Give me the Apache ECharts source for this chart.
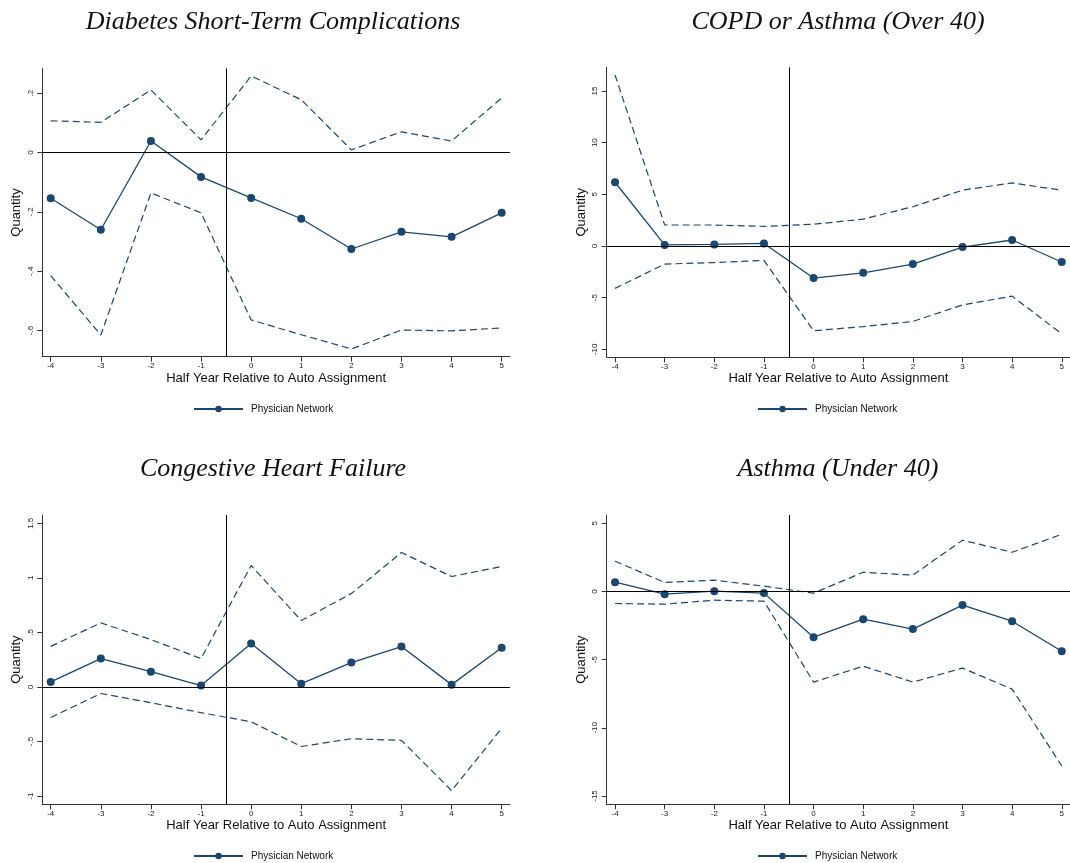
<!DOCTYPE html>
<html>
<head>
<meta charset="utf-8">
<script src="https://cdn.jsdelivr.net/npm/echarts@6/dist/echarts.min.js"></script>
<style>
  html, body { margin: 0; padding: 0; background: #fff; }
  #chart { width: 1070px; height: 863px; }
</style>
</head>
<body>
<div id="chart"></div>
<script>
// Event-study estimates by half year relative to auto assignment
const halfYears = [-4, -3, -2, -1, 0, 1, 2, 3, 4, 5];

// Diabetes short-term complications
const diabEst   = [-0.154, -0.26, 0.039, -0.082, -0.153, -0.223, -0.325, -0.267, -0.284, -0.203];
const diabUpper = [0.107, 0.102, 0.211, 0.043, 0.258, 0.178, 0.009, 0.07, 0.039, 0.184];
const diabLower = [-0.415, -0.615, -0.136, -0.203, -0.564, -0.614, -0.662, -0.598, -0.601, -0.591];

// COPD or asthma (over 40)
const copdEst   = [6.17, 0.1, 0.15, 0.25, -3.1, -2.6, -1.75, -0.1, 0.58, -1.55];
const copdUpper = [16.55, 2.03, 2.03, 1.9, 2.1, 2.6, 3.8, 5.4, 6.1, 5.4];
const copdLower = [-4.1, -1.75, -1.6, -1.4, -8.2, -7.8, -7.3, -5.7, -4.85, -8.5];

// Congestive heart failure
const chfEst   = [0.046, 0.26, 0.14, 0.012, 0.397, 0.03, 0.223, 0.37, 0.021, 0.36];
const chfUpper = [0.372, 0.587, 0.434, 0.26, 1.113, 0.608, 0.856, 1.232, 1.012, 1.104];
const chfLower = [-0.28, -0.06, -0.145, -0.236, -0.32, -0.546, -0.475, -0.49, -0.95, -0.38];

// Asthma (under 40)
const asthEst   = [0.68, -0.2, 0.02, -0.12, -3.35, -2.03, -2.76, -1.0, -2.18, -4.38];
const asthUpper = [2.22, 0.66, 0.83, 0.39, -0.12, 1.41, 1.2, 3.76, 2.88, 4.2];
const asthLower = [-0.88, -0.93, -0.64, -0.71, -6.65, -5.48, -6.65, -5.62, -7.16, -12.8];

const panelTitles = ['Diabetes Short-Term Complications', 'COPD or Asthma (Over 40)',
                     'Congestive Heart Failure', 'Asthma (Under 40)'];
const yTicks = [
  [-0.6, -0.4, -0.2, 0, 0.2],
  [-10, -5, 0, 5, 10, 15],
  [-1, -0.5, 0, 0.5, 1, 1.5],
  [-15, -10, -5, 0, 5]
];
const yRanges = [[-0.688, 0.284], [-10.77, 17.29], [-1.076, 1.576], [-15.61, 5.61]];
const xRange = [-4.168, 5.166];
const assignmentLine = -0.5;

const panels = [
  { est: diabEst, up: diabUpper, lo: diabLower },
  { est: copdEst, up: copdUpper, lo: copdLower },
  { est: chfEst,  up: chfUpper,  lo: chfLower },
  { est: asthEst, up: asthUpper, lo: asthLower }
];

const NAVY = '#1a476f';
const SANS = '"Liberation Sans", Arial, sans-serif';
const SERIF = '"Liberation Serif", "DejaVu Serif", serif';

// Stata-style number labels: ".2", "-.5"
function stataNum(v) {
  const s = String(+Number(v).toFixed(4));
  return s.replace(/^(-?)0\./, '$1.');
}

const gridBoxes = [
  { left: 42.3,  top: 68.3, width: 467.7, height: 288.4 },
  { left: 606.7, top: 67.3, width: 468,   height: 290 },
  { left: 42.3,  top: 515,  width: 467.7, height: 289.3 },
  { left: 606.7, top: 515,  width: 468,   height: 289.3 }
];
const titlePos = [[273, 9], [838, 9], [273, 456], [838, 456]];
const legendPos = [[193, 404], [757, 404], [193, 851], [757, 851]];

const grid = [], xAxis = [], yAxis = [], series = [], title = [], legend = [];

panels.forEach((p, k) => {
  grid.push(Object.assign({ containLabel: false }, gridBoxes[k]));

  title.push({
    text: panelTitles[k],
    left: titlePos[k][0], top: titlePos[k][1],
    textAlign: 'center', padding: 0,
    textStyle: { fontFamily: SERIF, fontStyle: 'italic', fontWeight: 'normal', fontSize: 26, color: '#111' }
  });

  legend.push({
    data: ['Physician Network'],
    left: legendPos[k][0], top: legendPos[k][1],
    padding: 0, itemWidth: 49, itemHeight: 8, itemGap: 0,
    selectedMode: false,
    textStyle: { fontFamily: SANS, fontSize: 10, color: '#111', padding: [0, 0, 0, 3] }
  });

  xAxis.push({
    type: 'value', gridIndex: k,
    min: xRange[0], max: xRange[1],
    name: 'Half Year Relative to Auto Assignment',
    nameLocation: 'middle', nameGap: 15,
    nameTextStyle: { fontFamily: SANS, fontSize: 13, color: '#111' },
    axisLine: { onZero: false, lineStyle: { color: '#333', width: 1 } },
    axisTick: { show: true, length: 5, customValues: halfYears, lineStyle: { color: '#333' } },
    axisLabel: { customValues: halfYears, margin: 5, fontFamily: SANS, fontSize: 8, color: '#222',
                 formatter: v => stataNum(v) },
    splitLine: { show: false }
  });

  yAxis.push({
    type: 'value', gridIndex: k,
    min: yRanges[k][0], max: yRanges[k][1],
    name: 'Quantity',
    nameLocation: 'middle', nameGap: 19,
    nameTextStyle: { fontFamily: SANS, fontSize: 13, color: '#111' },
    axisLine: { show: true, onZero: false, lineStyle: { color: '#333', width: 1 } },
    axisTick: { show: true, length: 5, customValues: yTicks[k], lineStyle: { color: '#333' } },
    axisLabel: { customValues: yTicks[k], rotate: 90, margin: 8, fontFamily: SANS, fontSize: 8, color: '#222',
                 formatter: v => stataNum(v) },
    splitLine: { show: false }
  });

  const pairs = arr => halfYears.map((x, i) => [x, arr[i]]);
  const ciStyle = { color: NAVY, width: 1.2, type: [7, 4] };

  series.push({
    type: 'line', name: 'Upper bound', xAxisIndex: k, yAxisIndex: k,
    data: pairs(p.up), symbol: 'none', lineStyle: ciStyle, silent: true, z: 2
  });
  series.push({
    type: 'line', name: 'Lower bound', xAxisIndex: k, yAxisIndex: k,
    data: pairs(p.lo), symbol: 'none', lineStyle: ciStyle, silent: true, z: 2
  });
  series.push({
    type: 'line', name: 'Physician Network', xAxisIndex: k, yAxisIndex: k,
    data: pairs(p.est), symbol: 'circle', symbolSize: 8,
    lineStyle: { color: NAVY, width: 1.3 }, itemStyle: { color: NAVY },
    z: 3,
    markLine: {
      silent: true, symbol: 'none',
      label: { show: false },
      lineStyle: { color: '#000', width: 1, type: 'solid' },
      data: [{ yAxis: 0 }, { xAxis: assignmentLine }]
    }
  });
});

const chart = echarts.init(document.getElementById('chart'), null, { renderer: 'canvas' });
chart.setOption({
  backgroundColor: '#fff',
  animation: false,
  title, legend, grid, xAxis, yAxis, series
});
</script>
</body>
</html>
